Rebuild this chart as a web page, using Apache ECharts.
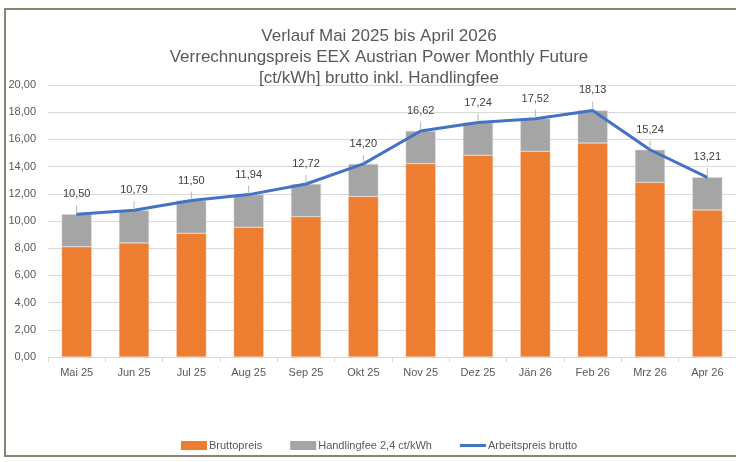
<!DOCTYPE html>
<html>
<head>
<meta charset="utf-8">
<script src="https://cdn.jsdelivr.net/npm/echarts@6/dist/echarts.min.js"></script>
<style>
  html, body { margin: 0; padding: 0; background: #fff; }
  #frame {
    position: absolute; left: 4px; top: 8px; width: 740px; height: 449px;
    border: 2px solid #8c8273; border-right: none; box-sizing: border-box;
  }
  #main { position: absolute; left: 0; top: 0; width: 736px; height: 462px; }
</style>
</head>
<body>
<div id="frame"></div>
<div id="main"></div>
<script>
// Monate
var months = ["Mai 25", "Jun 25", "Jul 25", "Aug 25", "Sep 25", "Okt 25",
  "Nov 25", "Dez 25", "Jän 26", "Feb 26", "Mrz 26", "Apr 26"];
// Bruttopreis (orange Balken)
var bruttopreis = [8.10, 8.39, 9.10, 9.54, 10.32, 11.80, 14.22, 14.84, 15.12, 15.73, 12.84, 10.81];
// Handlingfee (graue Balken)
var handlingfee = [2.4, 2.4, 2.4, 2.4, 2.4, 2.4, 2.4, 2.4, 2.4, 2.4, 2.4, 2.4];
// Arbeitspreis brutto (Linie)
var arbeitspreis = [10.50, 10.79, 11.50, 11.94, 12.72, 14.20, 16.62, 17.24, 17.52, 18.13, 15.24, 13.21];

var font = "'Liberation Sans', Arial, sans-serif";
function fmt(v) { return v.toFixed(2).replace(".", ","); }

var myChart = echarts.init(document.getElementById("main"));
var option = {
  animation: false,
  textStyle: { fontFamily: font },
  title: {
    text: "Verlauf Mai 2025 bis April 2026\nVerrechnungspreis EEX Austrian Power Monthly Future\n[ct/kWh] brutto inkl. Handlingfee",
    left: 374,
    textAlign: "center",
    top: 21,
    textStyle: { fontFamily: font, fontSize: 17, fontWeight: "normal", color: "#595959", lineHeight: 21 }
  },
  legend: {
    left: 176,
    top: 435,
    itemWidth: 26,
    itemHeight: 9,
    itemGap: 28,
    itemStyle: { borderWidth: 0 },
    textStyle: { fontFamily: font, fontSize: 11, color: "#595959", padding: [0, 0, 0, -3] },
    data: [
      { name: "Bruttopreis", icon: "rect" },
      { name: "Handlingfee 2,4 ct/kWh", icon: "rect" },
      { name: "Arbeitspreis brutto", icon: "path://M0,0H26V3H0Z" }
    ]
  },
  grid: { left: 48, right: -8, top: 85, bottom: 105 },
  xAxis: {
    type: "category",
    data: months,
    axisLine: { lineStyle: { color: "#d9d9d9" } },
    axisTick: { show: true, length: 5, lineStyle: { color: "#d9d9d9" } },
    axisLabel: { color: "#595959", fontSize: 11, margin: 10, fontFamily: font }
  },
  yAxis: {
    type: "value",
    min: 0,
    max: 20,
    interval: 2,
    axisLine: { show: false },
    axisTick: { show: false },
    splitLine: { lineStyle: { color: "#d9d9d9" } },
    axisLabel: { color: "#595959", fontSize: 11, margin: 12, fontFamily: font, formatter: fmt }
  },
  series: [
    {
      name: "Bruttopreis",
      type: "bar",
      stack: "preis",
      barWidth: 30,
      itemStyle: { color: "#ED7D31", borderColor: "#f5c6a8", borderWidth: 0.5 },
      data: bruttopreis
    },
    {
      name: "Handlingfee 2,4 ct/kWh",
      type: "bar",
      stack: "preis",
      barWidth: 30,
      itemStyle: { color: "#A5A5A5", borderColor: "#dcdcdc", borderWidth: 0.5 },
      data: handlingfee
    },
    {
      name: "Arbeitspreis brutto",
      type: "line",
      symbol: "circle",
      symbolSize: 1,
      showSymbol: true,
      z: 5,
      lineStyle: { color: "#4472C4", width: 3 },
      itemStyle: { color: "#4472C4" },
      label: {
        show: true,
        position: "top",
        distance: 14,
        color: "#404040",
        fontSize: 11,
        fontFamily: font,
        formatter: function (p) { return fmt(p.value); }
      },
      labelLine: { show: true, lineStyle: { color: "#a6a6a6", width: 0.8 } },
      data: arbeitspreis
    }
  ]
};
option && myChart.setOption(option);
</script>
</body>
</html>
